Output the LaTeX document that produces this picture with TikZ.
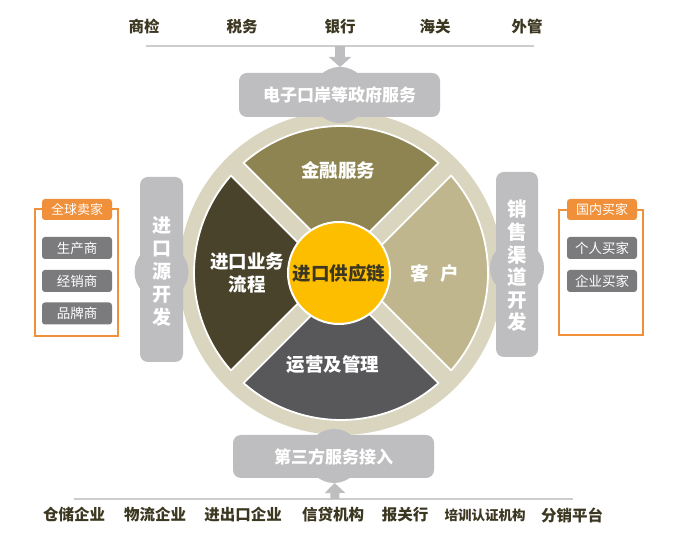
\documentclass[tikz,border=0pt]{standalone}
\usepackage{fontspec}
\newfontfamily\cjk{Noto Sans CJK SC}
\usetikzlibrary{arrows.meta,calc}
\definecolor{ringc}{HTML}{D9D5BF}
\definecolor{secT}{HTML}{8E8452}
\definecolor{secR}{HTML}{BFB68D}
\definecolor{secB}{HTML}{58575A}
\definecolor{secL}{HTML}{48432A}
\definecolor{yel}{HTML}{FDBE00}
\definecolor{gboxc}{HTML}{BEBDBF}
\definecolor{iboxc}{HTML}{7B7A7C}
\definecolor{orgc}{HTML}{F0903A}
\definecolor{txtc}{HTML}{3C3721}
\definecolor{linc}{HTML}{CDCDCD}
\begin{document}
\begin{tikzpicture}[x=1pt,y=1pt,font=\cjk,
  toplab/.style={font=\cjk\bfseries\fontsize{15.5}{16}\selectfont,text=txtc,inner sep=0},
  seclab/.style={font=\cjk\bfseries\fontsize{18.5}{23}\selectfont,text=white,inner sep=0,align=center},
  gbox/.style={fill=gboxc,rounded corners=8pt,inner sep=0,text=white,font=\cjk\bfseries\fontsize{17}{17}\selectfont},
  vtext/.style={text=white,inner sep=0,align=center,font=\cjk\bfseries\fontsize{19}{23}\selectfont},
  tabbox/.style={fill=orgc,rounded corners=3pt,minimum width=70pt,minimum height=21pt,inner sep=0,text=white,font=\cjk\fontsize{13}{13}\selectfont},
  itembox/.style={fill=iboxc,rounded corners=3pt,minimum width=70pt,minimum height=22pt,inner sep=0,text=white,font=\cjk\fontsize{13.5}{13.5}\selectfont},
  frame/.style={draw=orgc,line width=1.5pt},
  conn/.style={draw=gboxc,line width=10pt,-{Triangle[width=22pt,length=10pt]}},
  hline/.style={draw=linc,line width=2pt}]
\useasboundingbox (0,0) rectangle (674,545);
\fill[white] (0,0) rectangle (674,545);

% ring and sectors
\coordinate (c) at (341,272);
\fill[ringc] (c) circle[radius=162];
\foreach \a/\col in {90/secT,0/secR,270/secB,180/secL}{
  \pgfmathsetmacro{\sa}{\a-45+3.5}
  \pgfmathsetmacro{\ea}{\a+45-3.5}
  \filldraw[fill=\col,draw=white,line width=1.8pt,line join=round]
    ($(c)+(\a:12.7)$) -- ($(c)+(\sa:147)$) arc[start angle=\sa,end angle=\ea,radius=147] -- cycle;
}
\node[circle,fill=yel,draw=white,line width=2pt,minimum size=102pt,inner sep=0,
  font=\cjk\bfseries\fontsize{18.5}{18.5}\selectfont,text=txtc] (core) at (339,272) {进口供应链};
\node[seclab] (fin) at (338,375) {金融服务};
\node[seclab] (cust) at (435,272) {客\hspace{0.6em}户};
\node[seclab] (ops) at (333,180) {运营及管理};
\node[seclab] (proc) at (247,272) {进口业务\\流程};

% top
\foreach \t/\x [count=\i] in {商检/144,税务/242,银行/340,海关/435,外管/527}{
  \node[toplab] (top\i) at (\x,518) {\t};
}
\coordinate (tl1) at (146,499);
\coordinate (tl2) at (534,499);
\draw[hline] (tl1) -- (tl2);
\coordinate (govc) at (340,450);
\fill[gboxc] (govc) circle[radius=28];
\node[gbox,minimum width=201pt,minimum height=44pt] (gov) at (339.5,450) {电子口岸等政府服务};
\coordinate (tarr) at (340,499);
\draw[conn,shorten >=28pt] (tarr) -- (govc);

% bottom
\coordinate (thc) at (334,89);
\fill[gboxc] (thc) circle[radius=27];
\node[gbox,minimum width=201pt,minimum height=43pt] (third) at (333.5,88.5) {第三方服务接入};
\coordinate (bl1) at (74,46);
\coordinate (bl2) at (573,46);
\draw[hline] (bl1) -- (bl2);
\coordinate (barr) at (335,46);
\draw[conn,line width=9pt,-{Triangle[width=20pt,length=10pt]},shorten >=27pt] (barr) -- (thc);
\foreach \t/\x [count=\i] in {仓储企业/74,物流企业/155,进出口企业/243,信贷机构/333,报关行/405,分销平台/572}{
  \node[toplab] (bot\i) at (\x,30) {\t};
}
\node[toplab,font=\cjk\bfseries\fontsize{13.5}{14}\selectfont] (bot7) at (485,30) {培训认证机构};

% left side
\coordinate (lc) at (161.5,273);
\fill[gboxc] (lc) circle[radius=27];
\node[gbox,minimum width=43pt,minimum height=185pt] (lbox) at (161.5,275.5) {};
\node[vtext] (ltext) at (161.5,274) {进\\口\\源\\开\\发};
\draw[frame] (35,209) rectangle (118,336);
\node[tabbox] (ltab) at (77,335.5) {全球卖家};
\node[itembox] (l1) at (77,297) {生产商};
\node[itembox] (l2) at (77,264) {经销商};
\node[itembox] (l3) at (77,231.5) {品牌商};

% right side
\coordinate (rc) at (517,277);
\fill[gboxc] (rc) circle[radius=27];
\node[gbox,minimum width=42pt,minimum height=185pt] (rbox) at (517,280.5) {};
\node[vtext,font=\cjk\bfseries\fontsize{19.5}{22.6}\selectfont] (rtext) at (517,279) {销\\售\\渠\\道\\开\\发};
\draw[frame] (559,210) rectangle (643,335);
\node[tabbox] (rtab) at (602,335.5) {国内买家};
\node[itembox] (r1) at (602,297) {个人买家};
\node[itembox] (r2) at (602,264) {企业买家};
\end{tikzpicture}
\end{document}
